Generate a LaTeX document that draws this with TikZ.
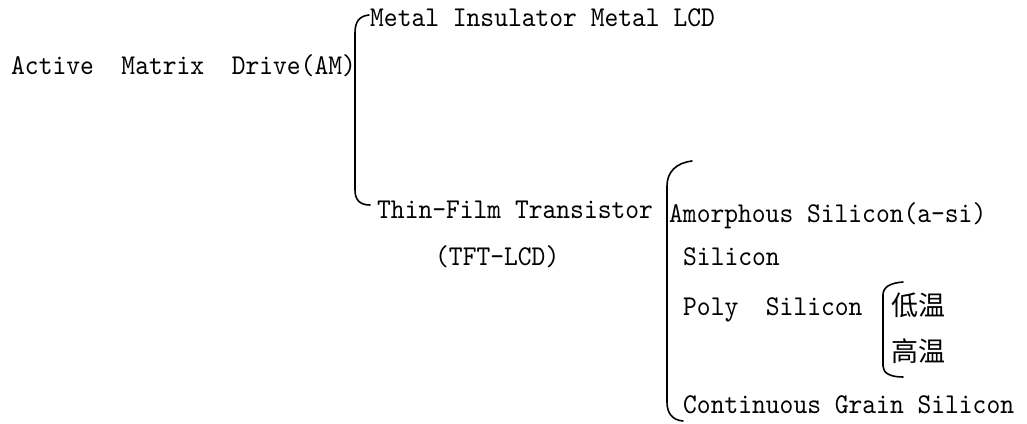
\documentclass[tikz,border=0pt]{standalone}
\usepackage{fontspec}
\setmonofont[FakeStretch=0.915]{lmmono10-regular.otf}
\newfontfamily\cjk{Noto Sans CJK SC}
\usepackage{tikz}
\usetikzlibrary{calc}

\begin{document}
\begin{tikzpicture}[x=1pt,y=1pt,
  lbl/.style={anchor=base west,inner sep=0pt,font=\fontsize{28.7}{32}\selectfont\ttfamily},
  cjklbl/.style={lbl,font=\fontsize{27}{30}\selectfont\cjk},
  brk/.style={line width=1.6pt,line cap=round}]
  \useasboundingbox (0,0) rectangle (1027,-423);
  % texts
  \node[lbl] (am) at (11,-74) {Active\ \ Matrix\ \ Drive(AM)};
  \node[lbl] (mim) at (370,-26) {Metal Insulator Metal LCD};
  \node[lbl] (tft) at (377,-218) {Thin-Film Transistor};
  \node[lbl] (tftlcd) at (435,-265) {(TFT-LCD)};
  \node[lbl] (asi) at (669,-222) {Amorphous Silicon(a-si)};
  \node[lbl] (si) at (683,-265) {Silicon};
  \node[lbl] (poly) at (683,-315) {Poly\ \ Silicon};
  \node[cjklbl] (low) at (891,-315) {低温};
  \node[cjklbl] (high) at (891,-361) {高温};
  \node[lbl] (cgs) at (683,-413) {Continuous Grain Silicon};
  % brackets
  \draw[brk] (369,-15) .. controls (359,-16) and (355,-22) .. (355,-33) -- (355,-190)
    .. controls (355,-200) and (360,-205) .. (370,-205);
  \draw[brk] (692,-161) .. controls (676,-163) and (667,-172) .. (667,-186) -- (667,-402)
    .. controls (667,-413) and (672,-420) .. (683,-421);
  \draw[brk] (903,-282) .. controls (890,-283) and (883,-287) .. (883,-295) -- (883,-366)
    .. controls (883,-373) and (890,-377) .. (903,-377);
\end{tikzpicture}
\end{document}
